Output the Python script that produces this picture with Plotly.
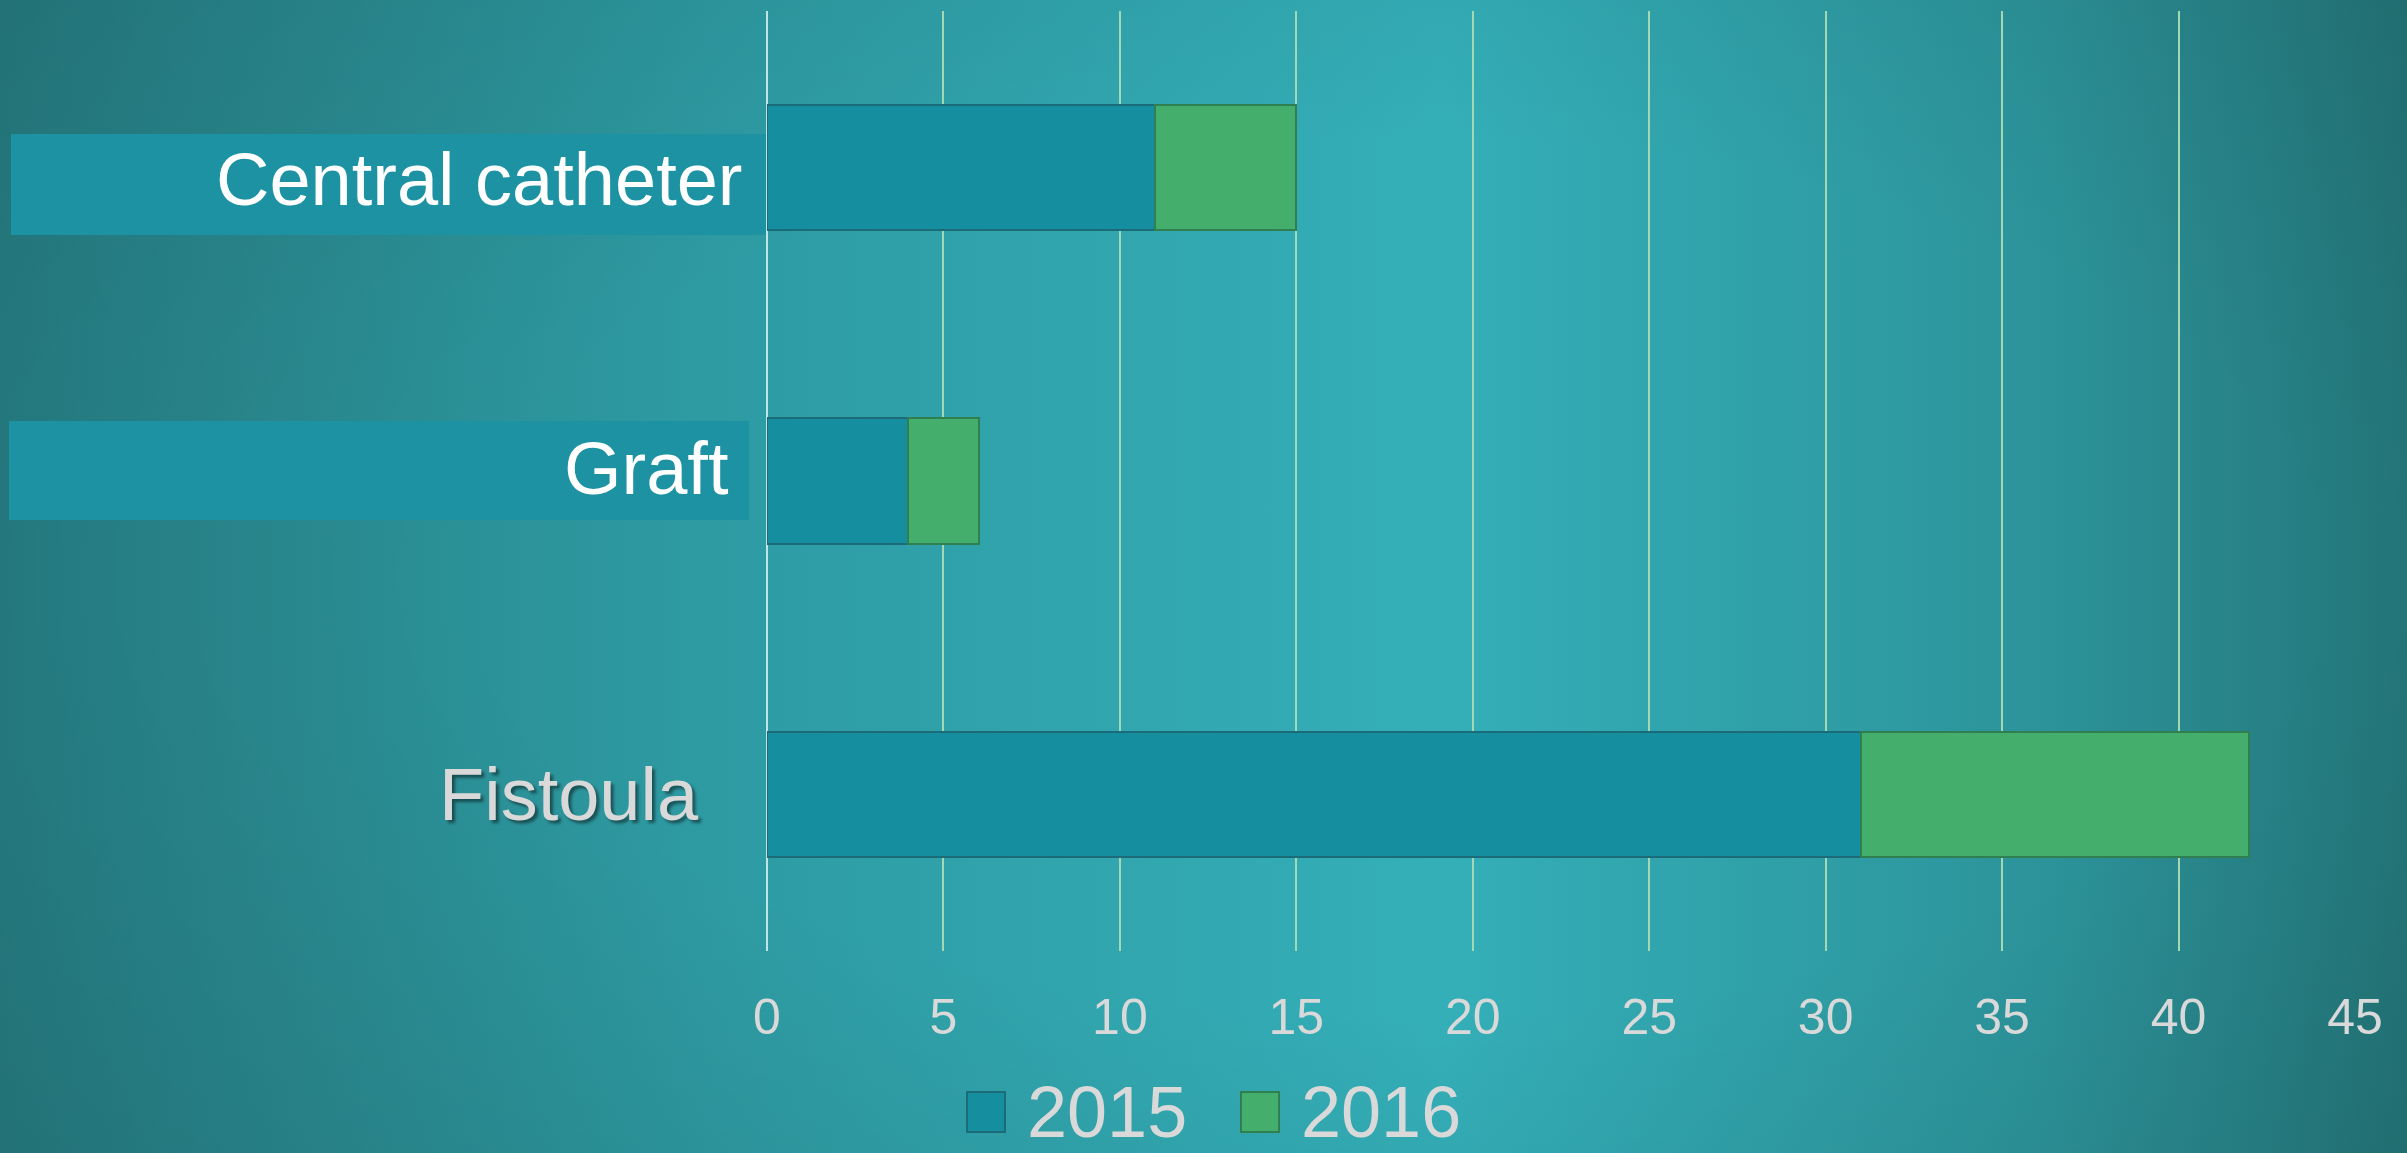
import base64
import plotly.graph_objects as go

categories = ["Fistoula", "Graft", "Central catheter"]
years = ["2015", "2016"]
values_2015 = [31, 4, 11]
values_2016 = [11, 2, 4]
x_ticks = [0, 5, 10, 15, 20, 25, 30, 35, 40, 45]

W, H = 2407, 1153
L, R, T, B = 767, 52, 11, 202
PW, PH = W - L - R, H - T - B


def px_x(px):
    return (px - L) / PW


def px_y(py):
    return 1 - (py - T) / PH


FONT = "Liberation Sans, Arial, sans-serif"
GREY = "#D9D9D9"
bar_fill = {"2015": "#158FA0", "2016": "#44AE6D"}
bar_edge = {"2015": "#1B6C78", "2016": "#2F7F50"}

# background: horizontal teal gradient with a soft vignette
svg = f"""<svg xmlns="http://www.w3.org/2000/svg" width="{W}" height="{H}" viewBox="0 0 {W} {H}" preserveAspectRatio="none">
<defs>
<linearGradient id="h" x1="0" y1="0" x2="1" y2="0">
<stop offset="0" stop-color="#267F84"/>
<stop offset="0.3" stop-color="#2E9BA3"/>
<stop offset="0.6" stop-color="#34AFB8"/>
<stop offset="0.85" stop-color="#2C939A"/>
<stop offset="1" stop-color="#237679"/>
</linearGradient>
<radialGradient id="v" cx="0.58" cy="0.5" r="0.75">
<stop offset="0.5" stop-color="#000" stop-opacity="0"/>
<stop offset="1" stop-color="#000" stop-opacity="0.10"/>
</radialGradient>
</defs>
<rect width="{W}" height="{H}" fill="url(#h)"/>
<rect width="{W}" height="{H}" fill="url(#v)"/>
</svg>"""
bg_src = "data:image/svg+xml;base64," + base64.b64encode(svg.encode()).decode()

fig = go.Figure()
for name, vals in zip(years, [values_2015, values_2016]):
    fig.add_trace(go.Bar(
        y=categories, x=vals, name=name, orientation="h",
        marker=dict(color=bar_fill[name], line=dict(color=bar_edge[name], width=2)),
    ))

fig.update_layout(
    width=W, height=H,
    margin=dict(l=L, r=R, t=T, b=B),
    barmode="stack", bargap=0.6,
    paper_bgcolor="#2C959C", plot_bgcolor="rgba(0,0,0,0)",
    showlegend=False,
    font=dict(family=FONT, color=GREY),
    images=[dict(
        source=bg_src, xref="paper", yref="paper",
        x=px_x(0), y=px_y(0), sizex=W / PW, sizey=H / PH,
        xanchor="left", yanchor="top", sizing="stretch", layer="below",
    )],
)
fig.update_xaxes(
    range=[0, 45], tickvals=x_ticks, ticks="",
    tickfont=dict(size=50, color=GREY), ticklabelstandoff=32,
    showgrid=True, gridcolor="#A2D9B4", gridwidth=1.5,
    zeroline=True, zerolinecolor="#BFE3E6", zerolinewidth=2,
    showline=False,
)
fig.update_yaxes(
    categoryorder="array", categoryarray=categories,
    range=[-0.5, 2.5], showticklabels=False, showgrid=False, zeroline=False,
)

# label boxes that sit over the original category labels
boxes = [(11, 766, 134, 235), (9, 749, 421, 520)]
for x0, x1, y0, y1 in boxes:
    fig.add_shape(type="rect", xref="paper", yref="paper",
                  x0=px_x(x0), x1=px_x(x1), y0=px_y(y1), y1=px_y(y0),
                  fillcolor="#1D92A2", line=dict(width=0), layer="above")

labels = [
    ("Central catheter", 745, -12, "white", None),
    ("Graft", 731, 13, "white", None),
    ("Fistoula", 701, 0, GREY, "3px 3px 3px rgba(0,0,0,0.45)"),
]
for text, xr, ys, col, shadow in labels:
    f = dict(family=FONT, size=74, color=col)
    if shadow:
        f["shadow"] = shadow
    fig.add_annotation(text=text, xref="paper", yref="y", x=px_x(xr), y=text,
                       xanchor="right", yanchor="middle", yshift=ys,
                       showarrow=False, font=f)

# legend drawn by hand so the swatches match the large text
leg = [("2015", 967, 1005), ("2016", 1241, 1279)]
for name, sx0, sx1 in leg:
    fig.add_shape(type="rect", xref="paper", yref="paper",
                  x0=px_x(sx0), x1=px_x(sx1), y0=px_y(1132), y1=px_y(1092),
                  fillcolor=bar_fill[name], line=dict(color=bar_edge[name], width=2))
    fig.add_annotation(text=name, xref="paper", yref="paper",
                       x=px_x(sx1 + 20), y=px_y(1112), xanchor="left", yanchor="middle",
                       showarrow=False, font=dict(family=FONT, size=72, color=GREY))

fig.write_html("out.html", config={"displayModeBar": False},
               post_script="document.body.style.margin='0';document.body.style.overflow='hidden';")
